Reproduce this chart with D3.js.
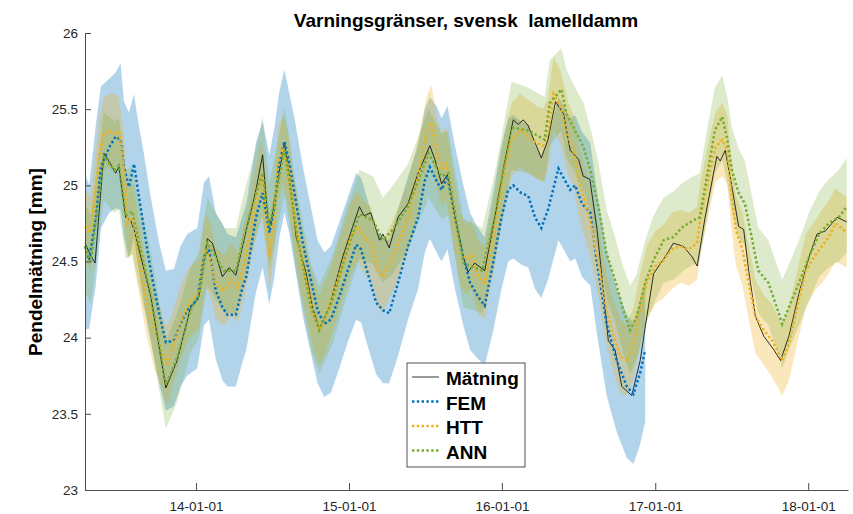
<!DOCTYPE html>
<html>
<head>
<meta charset="utf-8">
<script src="https://cdn.jsdelivr.net/npm/d3@7/dist/d3.min.js"></script>
<style>
  body { margin: 0; background: #fff; }
  text { font-family: "Liberation Sans", Arial, Helvetica, sans-serif; }
</style>
</head>
<body>
<div id="chart"></div>
<script>
// Measured pendulum value (Mätning)
var matDates = [
  "2013-04-11","2013-04-23","2013-05-05","2013-05-26","2013-06-07","2013-06-23","2013-07-01","2013-07-17","2013-07-29","2013-08-06","2013-09-15","2013-10-21","2013-11-17","2013-12-19",
  "2014-01-08","2014-01-28","2014-02-09","2014-03-05","2014-03-21","2014-04-06","2014-04-28","2014-05-24","2014-06-09","2014-06-21","2014-06-29","2014-07-15","2014-07-31","2014-08-12","2014-08-28","2014-09-21","2014-10-06","2014-10-22","2014-11-15","2014-12-17",
  "2015-01-10","2015-01-26","2015-02-06","2015-02-22","2015-03-15","2015-03-23","2015-04-07","2015-04-28","2015-05-22","2015-06-15","2015-07-13","2015-07-25","2015-08-10","2015-08-24","2015-09-11","2015-10-01","2015-10-12","2015-10-28","2015-11-21","2015-12-15",
  "2016-01-04","2016-01-28","2016-02-09","2016-02-21","2016-03-04","2016-03-20","2016-04-04","2016-04-20","2016-05-08","2016-05-27","2016-06-12","2016-07-02","2016-07-13","2016-07-29","2016-08-15","2016-08-30","2016-09-11","2016-09-27","2016-10-13","2016-11-06","2016-11-26","2016-12-12","2016-12-28",
  "2017-01-29","2017-02-13","2017-03-09","2017-03-30","2017-04-11","2017-04-30","2017-05-28","2017-06-05","2017-06-17","2017-07-03","2017-07-19","2017-07-31","2017-08-12","2017-08-28","2017-09-17","2017-10-11","2017-10-27","2017-11-16","2017-12-10",
  "2018-01-03","2018-01-22","2018-02-11","2018-03-11","2018-04-03"];
var matVals = [
  24.62,24.55,24.49,25.21,25.16,25.08,25.12,24.79,24.77,24.71,24.27,23.67,23.85,24.20,
  24.27,24.65,24.62,24.40,24.46,24.41,24.67,24.97,25.20,24.79,24.75,25.03,25.28,25.06,24.66,24.42,24.20,24.06,24.20,24.53,
  24.73,24.86,24.80,24.82,24.64,24.68,24.59,24.79,24.88,25.08,25.26,25.17,25.01,25.07,24.79,24.53,24.43,24.49,24.44,24.79,
  25.10,25.43,25.40,25.43,25.39,25.28,25.18,25.30,25.55,25.47,25.23,25.17,25.06,25.04,24.71,24.31,23.98,23.92,23.68,23.62,23.85,24.14,24.42,
  24.55,24.62,24.60,24.53,24.47,24.79,25.19,25.16,25.23,24.99,24.73,24.71,24.44,24.14,24.01,23.92,23.85,24.01,24.29,
  24.53,24.68,24.70,24.79,24.76];

// FEM model with its warning band
var femDates = [
  "2013-04-11","2013-04-21","2013-05-07","2013-05-19","2013-06-08","2013-06-23","2013-07-05","2013-07-13","2013-07-25","2013-08-06","2013-08-14","2013-08-30","2013-09-15","2013-10-05","2013-10-21","2013-11-09","2013-11-25","2013-12-11",
  "2014-01-04","2014-01-20","2014-02-01","2014-02-17","2014-03-05","2014-03-17","2014-04-06","2014-04-22","2014-05-01","2014-05-24","2014-06-09","2014-06-25","2014-07-07","2014-07-19","2014-07-31","2014-08-12","2014-08-24","2014-09-13","2014-10-02","2014-10-18","2014-11-03","2014-11-19","2014-12-09","2014-12-29",
  "2015-01-18","2015-01-30","2015-02-15","2015-03-07","2015-03-23","2015-04-07","2015-04-28","2015-05-22","2015-06-15","2015-07-01","2015-07-13","2015-07-29","2015-08-10","2015-08-24","2015-09-11","2015-10-01","2015-10-17","2015-11-05","2015-11-21","2015-12-11","2015-12-31",
  "2016-01-16","2016-01-28","2016-02-16","2016-03-04","2016-03-20","2016-04-04","2016-04-20","2016-05-15","2016-05-31","2016-06-12","2016-06-24","2016-07-10","2016-07-30","2016-08-15","2016-09-07","2016-10-01","2016-10-25","2016-11-10","2016-11-26","2016-12-08"];
var femVals = [
  24.60,24.51,24.79,25.12,25.25,25.32,25.30,25.12,24.99,25.14,24.99,24.71,24.44,24.16,23.97,23.98,24.09,24.18,
  24.25,24.53,24.58,24.31,24.20,24.15,24.15,24.33,24.40,24.79,24.95,24.69,24.86,25.14,25.29,25.14,24.95,24.62,24.38,24.18,24.09,24.12,24.27,24.44,
  24.61,24.58,24.42,24.23,24.18,24.16,24.36,24.60,24.79,25.03,25.12,25.03,24.97,25.06,24.79,24.53,24.36,24.27,24.21,24.49,24.79,
  24.97,25.00,24.95,24.93,24.79,24.72,24.84,25.11,25.03,24.97,25.00,24.88,24.82,24.49,24.09,23.85,23.68,23.63,23.77,23.92];
var femHi = [
  25.08,25.00,25.40,25.65,25.70,25.74,25.80,25.55,25.48,25.60,25.45,25.20,24.92,24.62,24.44,24.45,24.60,24.68,
  24.72,25.02,25.06,24.82,24.75,24.68,24.66,24.80,24.88,25.28,25.42,25.20,25.38,25.62,25.76,25.60,25.44,25.12,24.86,24.64,24.56,24.60,24.76,24.92,
  25.08,25.05,24.90,24.70,24.66,24.64,24.84,25.06,25.26,25.50,25.58,25.52,25.44,25.52,25.26,25.00,24.82,24.72,24.66,24.95,25.26,
  25.44,25.46,25.42,25.40,25.26,25.18,25.30,25.58,25.50,25.44,25.46,25.35,25.28,24.96,24.56,24.32,24.15,24.10,24.24,24.40];
var femLo = [
  24.05,24.06,24.35,24.72,24.82,24.85,24.84,24.66,24.52,24.66,24.50,24.22,23.98,23.70,23.52,23.55,23.68,23.75,
  23.80,24.08,24.12,23.86,23.72,23.68,23.68,23.84,23.92,24.30,24.46,24.22,24.40,24.66,24.82,24.68,24.48,24.14,23.90,23.70,23.61,23.64,23.80,23.97,
  24.12,24.10,23.94,23.76,23.70,23.70,23.88,24.12,24.32,24.56,24.65,24.56,24.50,24.58,24.32,24.08,23.92,23.86,23.82,24.04,24.32,
  24.50,24.52,24.48,24.46,24.32,24.26,24.38,24.64,24.56,24.50,24.52,24.40,24.34,24.02,23.62,23.38,23.21,23.17,23.30,23.45];

// HTT model with its warning band
var httDates = [
  "2013-04-11","2013-04-25","2013-05-14","2013-05-26","2013-06-08","2013-06-23","2013-07-01","2013-07-13","2013-07-21","2013-08-02","2013-08-14","2013-09-03","2013-09-23","2013-10-13","2013-10-25","2013-11-05","2013-11-25","2013-12-15",
  "2014-01-08","2014-01-24","2014-02-05","2014-02-17","2014-03-09","2014-03-25","2014-04-10","2014-04-26","2014-05-16","2014-06-05","2014-06-18","2014-06-25","2014-07-07","2014-07-15","2014-07-27","2014-08-08","2014-08-24","2014-09-08","2014-09-24","2014-10-10","2014-10-22","2014-11-07","2014-11-23","2014-12-17",
  "2015-01-06","2015-01-22","2015-02-06","2015-02-22","2015-03-11","2015-03-23","2015-04-07","2015-04-23","2015-05-22","2015-06-15","2015-07-05","2015-07-17","2015-07-29","2015-08-10","2015-08-22","2015-09-07","2015-09-23","2015-10-08","2015-10-20","2015-11-05","2015-11-21","2015-12-15",
  "2016-01-04","2016-01-24","2016-02-13","2016-03-04","2016-03-24","2016-04-08","2016-04-20","2016-05-03","2016-05-19","2016-06-08","2016-06-20","2016-07-02","2016-07-18","2016-08-03","2016-08-19","2016-09-03","2016-09-19","2016-10-09","2016-10-25","2016-11-10","2016-11-26","2016-12-12",
  "2017-01-01","2017-01-21","2017-02-10","2017-03-02","2017-03-22","2017-04-11","2017-04-19","2017-05-09","2017-05-25","2017-06-10","2017-06-22","2017-06-30","2017-07-12","2017-07-28","2017-08-12","2017-08-28","2017-09-17","2017-10-07","2017-10-31","2017-11-16","2017-12-06","2017-12-26",
  "2018-01-15","2018-02-03","2018-02-19","2018-03-07","2018-04-03"];
var httVals = [
  24.73,24.69,25.17,25.34,25.36,25.34,25.35,25.10,24.75,24.79,24.58,24.27,24.05,23.90,23.83,23.92,24.10,24.23,
  24.29,24.58,24.49,24.36,24.31,24.38,24.33,24.49,24.79,25.06,24.79,24.53,24.79,25.14,25.23,25.12,24.79,24.53,24.33,24.14,24.05,24.14,24.27,24.49,
  24.66,24.73,24.66,24.62,24.44,24.40,24.49,24.58,24.79,25.06,25.34,25.41,25.23,25.10,25.14,24.84,24.58,24.51,24.55,24.40,24.36,24.71,
  25.06,25.30,25.36,25.32,25.28,25.26,25.34,25.60,25.52,25.30,25.23,25.03,24.88,24.71,24.49,24.23,24.05,23.88,23.85,23.96,24.18,24.36,
  24.47,24.51,24.58,24.60,24.58,24.62,24.79,25.06,25.25,25.30,25.23,24.99,24.71,24.58,24.36,24.14,24.05,23.98,23.85,23.96,24.20,24.44,
  24.53,24.60,24.66,24.75,24.69];
var httHi = [
  24.98,24.92,25.42,25.58,25.60,25.60,25.58,25.34,25.00,25.02,24.82,24.50,24.30,24.14,24.08,24.16,24.34,24.46,
  24.52,24.82,24.74,24.60,24.54,24.62,24.56,24.74,25.02,25.30,25.04,24.78,25.02,25.38,25.46,25.36,25.02,24.76,24.56,24.38,24.28,24.38,24.50,24.72,
  24.90,24.96,24.90,24.86,24.68,24.64,24.72,24.82,25.02,25.30,25.58,25.66,25.46,25.34,25.38,25.08,24.82,24.74,24.78,24.64,24.60,24.94,
  25.30,25.54,25.60,25.56,25.52,25.50,25.58,25.84,25.76,25.54,25.46,25.26,25.12,24.94,24.72,24.46,24.28,24.12,24.08,24.20,24.42,24.60,
  24.70,24.74,24.82,24.84,24.82,24.86,25.02,25.30,25.48,25.54,25.46,25.22,24.94,24.82,24.60,24.38,24.28,24.22,24.08,24.20,24.44,24.68,
  24.76,24.84,24.90,24.98,24.92];
var httLo = [
  24.50,24.45,24.95,25.10,25.12,25.10,25.12,24.86,24.52,24.55,24.35,24.04,23.80,23.66,23.55,23.68,23.86,24.00,
  24.06,24.34,24.26,24.12,24.08,24.14,24.10,24.26,24.56,24.82,24.56,24.30,24.56,24.90,25.00,24.88,24.56,24.30,24.10,23.90,23.82,23.90,24.04,24.26,
  24.42,24.50,24.42,24.38,24.20,24.16,24.26,24.34,24.56,24.82,25.10,25.18,25.00,24.86,24.90,24.60,24.34,24.28,24.32,24.16,24.12,24.48,
  24.82,25.06,25.12,25.08,25.04,25.02,25.10,25.36,25.28,25.06,25.00,24.80,24.64,24.48,24.26,24.00,23.82,23.64,23.62,23.72,23.94,24.12,
  24.22,24.26,24.32,24.36,24.34,24.38,24.56,24.82,25.02,25.06,25.00,24.76,24.48,24.34,24.12,23.90,23.82,23.74,23.62,23.72,23.96,24.20,
  24.30,24.36,24.42,24.50,24.46];

// ANN model with its warning band
var annDates = [
  "2013-04-11","2013-04-25","2013-05-26","2013-06-20","2013-07-01","2013-07-17","2013-08-02","2013-08-10","2013-09-15","2013-10-21","2013-11-17","2013-12-19",
  "2014-01-08","2014-01-28","2014-03-09","2014-04-06","2014-04-28","2014-05-24","2014-06-09","2014-06-25","2014-07-15","2014-07-31","2014-08-12","2014-08-31","2014-10-02","2014-10-22","2014-11-23","2014-12-25",
  "2015-01-26","2015-02-27","2015-03-23","2015-04-16","2015-05-22","2015-07-10","2015-08-10","2015-08-26","2015-10-01","2015-11-15","2015-12-15",
  "2016-01-24","2016-03-04","2016-04-12","2016-04-24","2016-05-22","2016-06-03","2016-06-20","2016-07-14","2016-07-30","2016-08-19","2016-09-07","2016-09-27","2016-10-17","2016-11-02","2016-11-18","2016-12-08","2016-12-28",
  "2017-01-21","2017-02-13","2017-03-09","2017-04-02","2017-04-17","2017-05-07","2017-05-23","2017-06-10","2017-06-22","2017-07-03","2017-07-19","2017-08-03","2017-08-19","2017-09-04","2017-09-28","2017-10-18","2017-10-31","2017-11-16","2017-12-10",
  "2018-01-03","2018-01-27","2018-02-19","2018-03-15","2018-04-03"];
var annVals = [
  24.60,24.50,25.19,25.10,25.13,24.80,24.83,24.72,24.28,23.69,23.87,24.18,
  24.28,24.62,24.44,24.44,24.69,24.95,25.08,24.73,25.00,25.23,25.02,24.66,24.20,24.05,24.25,24.55,
  24.81,24.77,24.64,24.71,24.86,25.21,25.06,25.08,24.49,24.44,24.79,
  25.38,25.36,25.30,25.54,25.63,25.47,25.38,25.25,25.10,24.85,24.55,24.38,24.18,24.05,24.14,24.36,24.51,
  24.64,24.66,24.73,24.77,24.79,25.10,25.36,25.45,25.30,25.10,24.95,24.88,24.66,24.44,24.36,24.20,24.09,24.20,24.36,
  24.53,24.68,24.75,24.79,24.86];
var annHi = [
  24.88,24.80,25.48,25.42,25.44,25.10,25.12,25.00,24.56,23.98,24.16,24.46,
  24.56,24.92,24.72,24.72,24.98,25.24,25.45,25.02,25.28,25.52,25.30,24.94,24.48,24.34,24.54,24.84,
  25.10,25.06,24.92,25.00,25.14,25.50,25.34,25.36,24.78,24.72,25.08,
  25.68,25.64,25.58,25.82,25.90,25.76,25.66,25.54,25.38,25.14,24.84,24.66,24.46,24.34,24.42,24.64,24.80,
  24.92,24.96,25.02,25.06,25.08,25.40,25.64,25.72,25.58,25.38,25.24,25.16,24.94,24.72,24.64,24.48,24.38,24.48,24.64,
  24.82,24.96,25.04,25.10,25.18];
var annLo = [
  24.30,24.22,24.90,24.82,24.84,24.52,24.55,24.44,23.98,23.40,23.58,23.90,
  24.00,24.34,24.16,24.16,24.40,24.66,24.80,24.44,24.72,24.94,24.74,24.38,23.92,23.76,23.96,24.26,
  24.52,24.48,24.36,24.42,24.58,24.92,24.78,24.80,24.20,24.16,24.50,
  25.10,25.08,25.02,25.26,25.36,25.18,25.10,24.96,24.82,24.56,24.26,24.10,23.90,23.76,23.86,24.08,24.22,
  24.36,24.38,24.44,24.48,24.50,24.82,25.08,25.16,25.02,24.82,24.66,24.60,24.38,24.16,24.08,23.92,23.80,23.92,24.08,
  24.24,24.40,24.46,24.50,24.56];

var xTicks = ["2014-01-01","2015-01-01","2016-01-01","2017-01-01","2018-01-01"];
var yTicks = [23, 23.5, 24, 24.5, 25, 25.5, 26];
var legendNames = ["Mätning", "FEM", "HTT", "ANN"];

var width = 853, height = 514;
var parse = d3.timeParse("%Y-%m-%d");
var fmt = d3.timeFormat("%y-%m-%d");

var x = d3.scaleTime()
    .domain([parse("2013-04-11"), parse("2018-04-06")])
    .range([85, 848]);
var y = d3.scaleLinear().domain([23, 26]).range([490, 33]);

function rows(dates, vals, lo, hi) {
    return dates.map(function(d, i) {
        return {date: parse(d), v: vals[i], lo: lo ? lo[i] : null, hi: hi ? hi[i] : null};
    });
}

var mat = rows(matDates, matVals);
var fem = rows(femDates, femVals, femLo, femHi);
var htt = rows(httDates, httVals, httLo, httHi);
var ann = rows(annDates, annVals, annLo, annHi);

var svg = d3.select("#chart").append("svg")
    .attr("width", width)
    .attr("height", height);

var area = d3.area()
    .x(function(d) { return x(d.date); })
    .y0(function(d) { return y(d.lo); })
    .y1(function(d) { return y(d.hi); });

var line = d3.line()
    .x(function(d) { return x(d.date); })
    .y(function(d) { return y(d.v); });

// bands first, then the lines on top
svg.append("path").datum(fem).attr("d", area).attr("fill", "#0072BD").attr("fill-opacity", 0.3);
svg.append("path").datum(htt).attr("d", area).attr("fill", "#EDB120").attr("fill-opacity", 0.3);
svg.append("path").datum(ann).attr("d", area).attr("fill", "#77AC30").attr("fill-opacity", 0.25);

svg.append("path").datum(mat).attr("d", line)
    .attr("fill", "none").attr("stroke", "#000").attr("stroke-width", 0.8);

var dotted = [[fem, "#0072BD"], [htt, "#EDB120"], [ann, "#77AC30"]];
dotted.forEach(function(s) {
    svg.append("path").datum(s[0]).attr("d", line)
        .attr("fill", "none")
        .attr("stroke", s[1])
        .attr("stroke-width", 2.5)
        .attr("stroke-dasharray", "2.4,2.4");
});

// axes, MATLAB style ticks pointing inward
var xAxis = svg.append("g")
    .attr("transform", "translate(0,490)")
    .call(d3.axisBottom(x)
        .tickValues(xTicks.map(parse))
        .tickFormat(fmt)
        .tickSizeInner(-7)
        .tickSizeOuter(0)
        .tickPadding(11));

var yAxis = svg.append("g")
    .attr("transform", "translate(85,0)")
    .call(d3.axisLeft(y)
        .tickValues(yTicks)
        .tickFormat(d3.format("~g"))
        .tickSizeInner(-6)
        .tickSizeOuter(0)
        .tickPadding(7));

[xAxis, yAxis].forEach(function(g) {
    g.selectAll("path, line").attr("stroke", "#4d4d4d");
    g.selectAll("text")
        .attr("fill", "#262626")
        .style("font-size", "13.5px")
        .style("font-family", "'Liberation Sans', Arial, sans-serif");
});

// title and y label
svg.append("text")
    .attr("x", 466)
    .attr("y", 27)
    .attr("text-anchor", "middle")
    .style("white-space", "pre")
    .style("font-size", "19px")
    .style("font-weight", "bold")
    .text("Varningsgränser, svensk  lamelldamm");

svg.append("text")
    .attr("transform", "translate(42,262) rotate(-90)")
    .attr("text-anchor", "middle")
    .style("font-size", "19px")
    .style("font-weight", "bold")
    .text("Pendelmätning [mm]");

// legend
var leg = svg.append("g");
leg.append("rect")
    .attr("x", 407).attr("y", 363)
    .attr("width", 118).attr("height", 104)
    .attr("fill", "#fff")
    .attr("stroke", "#262626")
    .attr("stroke-width", 0.8);

var legColors = ["#000", "#0072BD", "#EDB120", "#77AC30"];
legendNames.forEach(function(name, i) {
    var ly = 377 + i * 24.5;
    var l = leg.append("line")
        .attr("x1", 412).attr("x2", 439)
        .attr("y1", ly).attr("y2", ly)
        .attr("stroke", legColors[i]);
    if (i == 0) {
        l.attr("stroke-width", 0.8);
    } else {
        l.attr("stroke-width", 2.5).attr("stroke-dasharray", "2.4,2.4");
    }
    leg.append("text")
        .attr("x", 446)
        .attr("y", ly + 8)
        .style("font-size", "19px")
        .style("font-weight", "bold")
        .text(name);
});
</script>
</body>
</html>
